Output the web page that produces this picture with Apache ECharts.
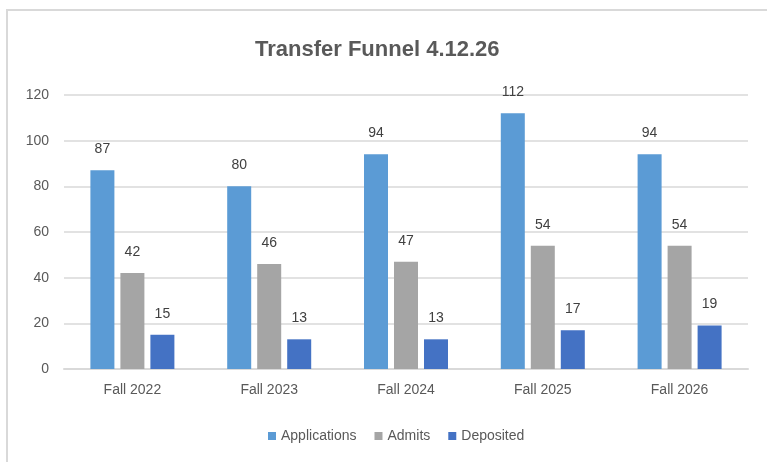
<!DOCTYPE html>
<html>
<head>
<meta charset="utf-8">
<script src="https://cdn.jsdelivr.net/npm/echarts@6/dist/echarts.min.js"></script>
<style>
  html, body { margin: 0; padding: 0; background: #fff; }
  #chart { width: 767px; height: 462px; }
</style>
</head>
<body>
<div id="chart"></div>
<script>
// data
var categories = ['Fall 2022', 'Fall 2023', 'Fall 2024', 'Fall 2025', 'Fall 2026'];
var applications = [87, 80, 94, 112, 94];
var admits = [42, 46, 47, 54, 54];
var deposited = [15, 13, 13, 17, 19];
var seriesNames = ['Applications', 'Admits', 'Deposited'];

var font = 'Liberation Sans, Arial, sans-serif';
var myChart = echarts.init(document.getElementById('chart'));

function makeSeries(name, data, color) {
  return {
    name: name,
    type: 'bar',
    data: data,
    barWidth: 24,
    barGap: '25%',
    itemStyle: { color: color },
    label: {
      show: true,
      position: 'top',
      distance: 14,
      color: '#404040',
      fontSize: 14,
      fontFamily: font
    }
  };
}

var option = {
  animation: false,
  backgroundColor: '#fff',
  title: {
    text: 'Transfer Funnel 4.12.26',
    left: 250,
    top: 34,
    textStyle: {
      color: '#595959',
      fontSize: 22,
      fontWeight: 'bold',
      fontFamily: font
    }
  },
  graphic: [{
    type: 'rect',
    shape: { x: 7, y: 10, width: 820, height: 520 },
    style: { fill: 'none', stroke: '#d9d9d9', lineWidth: 2 },
    silent: true
  }],
  legend: {
    data: seriesNames,
    left: 263,
    top: 424,
    itemWidth: 8,
    itemHeight: 8,
    itemGap: 18,
    icon: 'rect',
    textStyle: { color: '#595959', fontSize: 14, fontFamily: font }
  },
  grid: {
    left: 64,
    right: 19,
    top: 95,
    bottom: 93,
    containLabel: false
  },
  xAxis: {
    type: 'category',
    data: categories,
    axisTick: { show: false },
    axisLine: { lineStyle: { color: '#d9d9d9', width: 2 } },
    axisLabel: { color: '#595959', fontSize: 14, fontFamily: font, margin: 14 }
  },
  yAxis: {
    type: 'value',
    min: 0,
    max: 120,
    interval: 20,
    axisLine: { show: false },
    axisTick: { show: false },
    splitLine: { lineStyle: { color: '#d9d9d9', width: 1.5 } },
    axisLabel: { color: '#595959', fontSize: 14, fontFamily: font, margin: 15 }
  },
  series: [
    makeSeries(seriesNames[0], applications, '#5B9BD5'),
    makeSeries(seriesNames[1], admits, '#A5A5A5'),
    makeSeries(seriesNames[2], deposited, '#4472C4')
  ]
};

myChart.setOption(option, true);
window.addEventListener('resize', function () {
  if (myChart) {
    myChart.resize();
  }
});
</script>
</body>
</html>
